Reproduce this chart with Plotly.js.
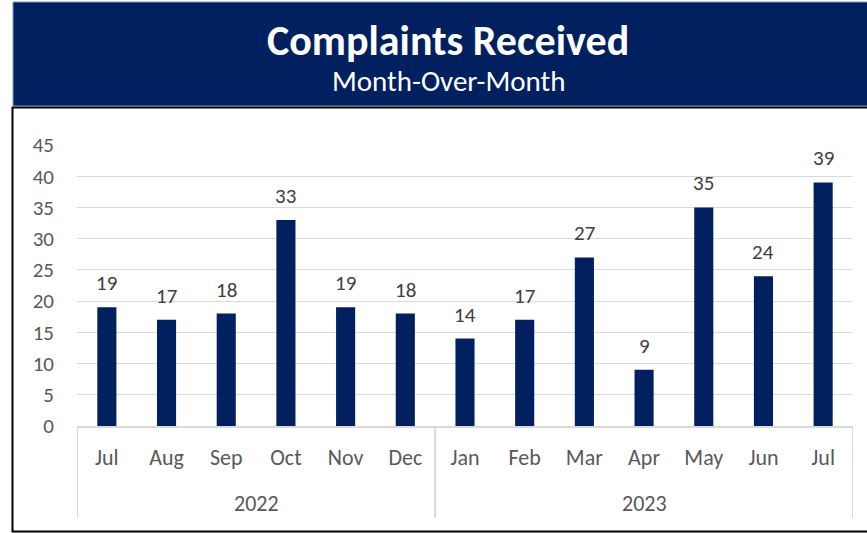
<!DOCTYPE html>
<html>
<head>
<meta charset="utf-8">
<script src="https://cdn.plot.ly/plotly-3.0.1.min.js"></script>
<style>
html,body{margin:0;padding:0;background:#fff;}
#chart{width:867px;height:533px;}
</style>
</head>
<body>
<div id="chart"></div>
<script>
const years = ["2022","2022","2022","2022","2022","2022","2023","2023","2023","2023","2023","2023","2023"];
const months = ["Jul","Aug","Sep","Oct","Nov","Dec","Jan","Feb","Mar","Apr","May","Jun","Jul"];
const complaints = [19,17,18,33,19,18,14,17,27,9,35,24,39];
const yTicks = [0,5,10,15,20,25,30,35,40,45];
const titleText = "Complaints Received";
const subtitleText = "Month-Over-Month";

const W = 867, H = 533;
const L = 77, R = 14, T = 145, B = 107;
const pw = W - L - R, ph = H - T - B;
const px = x => (x - L) / pw;
const py = y => (H - B - y) / ph;

const FONT = "Carlito, Lato, 'Open Sans', sans-serif";
const NAVY = "#002060";
const TXT = "#595959";
const GRID = "#d9d9d9";

const idx = months.map((m, i) => i);

// year groups derived from the years array
const groups = [];
years.forEach((y, i) => {
  if (!groups.length || groups[groups.length - 1].year !== y) groups.push({year: y, start: i, end: i});
  else groups[groups.length - 1].end = i;
});

const trace = {
  type: "bar",
  x: idx,
  y: complaints,
  marker: {color: NAVY},
  hoverinfo: "skip"
};

const annotations = [
  {xref: "paper", yref: "paper", x: px(448), y: py(40), xanchor: "center", yanchor: "middle",
   text: "<b>" + titleText + "</b>", showarrow: false,
   font: {family: FONT, size: 42, color: "#ffffff"}},
  {xref: "paper", yref: "paper", x: px(448), y: py(81), xanchor: "center", yanchor: "middle",
   text: subtitleText, showarrow: false,
   font: {family: FONT, size: 29, color: "#ffffff"}}
];
complaints.forEach((v, i) => annotations.push({
  xref: "x", yref: "y", x: i, y: v, yshift: 24, xanchor: "center", yanchor: "middle",
  text: String(v), showarrow: false, font: {family: FONT, size: 21, color: "#404040"}
}));
groups.forEach(g => annotations.push({
  xref: "x", yref: "paper", x: (g.start + g.end) / 2, y: py(503), xanchor: "center", yanchor: "middle",
  text: g.year, showarrow: false, font: {family: FONT, size: 22, color: TXT}
}));

const shapes = [
  {type: "rect", xref: "paper", yref: "paper",
   x0: px(13), x1: px(868), y0: py(2), y1: py(106),
   fillcolor: NAVY, line: {color: "#8496b0", width: 1}, layer: "below"},
  {type: "rect", xref: "paper", yref: "paper",
   x0: px(12.5), x1: px(870), y0: py(107.5), y1: py(531.5),
   fillcolor: "rgba(0,0,0,0)", line: {color: "#000000", width: 2}, layer: "below"}
];
const bounds = [groups[0].start - 0.5].concat(groups.map(g => g.end + 0.5));
bounds.forEach(b => shapes.push({
  type: "line", xref: "x", yref: "paper", x0: b, x1: b, y0: 0, y1: py(518),
  line: {color: GRID, width: 2}
}));

const layout = {
  width: W, height: H,
  margin: {l: L, r: R, t: T, b: B, pad: 0},
  paper_bgcolor: "#ffffff",
  plot_bgcolor: "#ffffff",
  showlegend: false,
  bargap: 0.68,
  font: {family: FONT, color: TXT, size: 21},
  xaxis: {
    range: [-0.5, months.length - 0.5],
    tickmode: "array", tickvals: idx, ticktext: months,
    showgrid: false, zeroline: false,
    showline: true, linecolor: GRID, linewidth: 2,
    ticks: "",
    ticklabelstandoff: 11,
    tickfont: {family: FONT, size: 22, color: TXT},
    fixedrange: true
  },
  yaxis: {
    range: [0, 45],
    tickmode: "array", tickvals: yTicks,
    showgrid: true, gridcolor: GRID, gridwidth: 1,
    zeroline: false,
    showline: false,
    ticks: "",
    ticklabelstandoff: 22,
    tickfont: {family: FONT, size: 21, color: TXT},
    fixedrange: true
  },
  shapes: shapes,
  annotations: annotations
};

Plotly.newPlot("chart", [trace], layout, {displayModeBar: false, staticPlot: true});
</script>
</body>
</html>
